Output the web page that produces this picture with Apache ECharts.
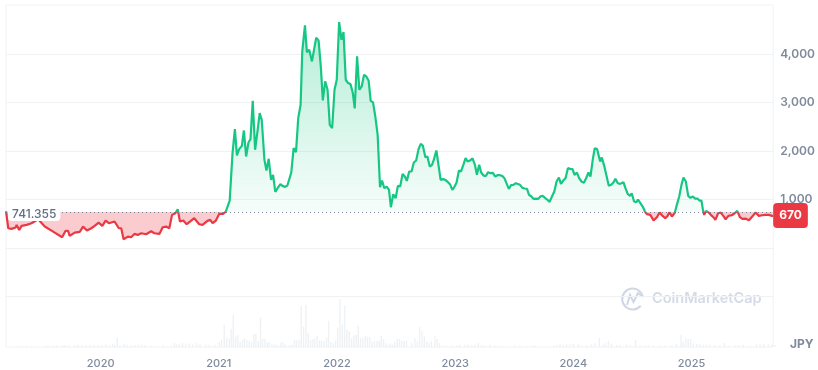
<!DOCTYPE html>
<html>
<head>
<meta charset="utf-8">
<title>Price chart</title>
<style>
  html, body { margin: 0; padding: 0; background: #fff; }
  #chart { width: 818px; height: 370px; }
</style>
<script src="https://cdn.jsdelivr.net/npm/echarts@6/dist/echarts.min.js"></script>
</head>
<body>
<div id="chart"></div>
<script>
// price (x as decimal year, y in JPY)
const priceYears = [
  2019.199, 2019.218, 2019.246, 2019.280, 2019.289, 2019.311, 2019.331, 2019.373, 2019.415, 2019.471,
  2019.527, 2019.598, 2019.674, 2019.702, 2019.724, 2019.738, 2019.780, 2019.823, 2019.851, 2019.884,
  2019.921, 2019.949, 2019.983, 2020.014, 2020.042, 2020.070, 2020.118, 2020.154, 2020.174, 2020.194,
  2020.230, 2020.258, 2020.286, 2020.314, 2020.343, 2020.385, 2020.427, 2020.455, 2020.497, 2020.525,
  2020.553, 2020.581, 2020.604, 2020.632, 2020.652, 2020.671, 2020.699, 2020.728, 2020.756, 2020.792,
  2020.834, 2020.862, 2020.904, 2020.927, 2020.947, 2020.975, 2020.989, 2021.003, 2021.036, 2021.059,
  2021.092, 2021.116, 2021.136, 2021.153, 2021.172, 2021.195, 2021.212, 2021.231, 2021.251, 2021.268,
  2021.287, 2021.307, 2021.327, 2021.346, 2021.363, 2021.386, 2021.403, 2021.422, 2021.442, 2021.459,
  2021.478, 2021.501, 2021.521, 2021.538, 2021.560, 2021.580, 2021.613, 2021.633, 2021.653, 2021.672,
  2021.692, 2021.706, 2021.729, 2021.745, 2021.765, 2021.788, 2021.804, 2021.824, 2021.844, 2021.863,
  2021.880, 2021.900, 2021.920, 2021.939, 2021.959, 2021.979, 2021.998, 2022.018, 2022.038, 2022.055,
  2022.074, 2022.094, 2022.114, 2022.133, 2022.150, 2022.170, 2022.189, 2022.209, 2022.229, 2022.248,
  2022.268, 2022.285, 2022.305, 2022.324, 2022.344, 2022.364, 2022.381, 2022.400, 2022.420, 2022.440,
  2022.456, 2022.476, 2022.496, 2022.515, 2022.535, 2022.555, 2022.574, 2022.591, 2022.611, 2022.631,
  2022.650, 2022.670, 2022.690, 2022.709, 2022.726, 2022.748, 2022.765, 2022.785, 2022.804, 2022.821,
  2022.841, 2022.877, 2022.897, 2022.917, 2022.936, 2022.959, 2022.976, 2022.995, 2023.012, 2023.032,
  2023.049, 2023.069, 2023.088, 2023.105, 2023.125, 2023.147, 2023.167, 2023.184, 2023.203, 2023.220,
  2023.240, 2023.260, 2023.279, 2023.299, 2023.319, 2023.338, 2023.358, 2023.378, 2023.397, 2023.417,
  2023.434, 2023.454, 2023.473, 2023.493, 2023.513, 2023.529, 2023.549, 2023.569, 2023.588, 2023.608,
  2023.625, 2023.645, 2023.664, 2023.684, 2023.704, 2023.723, 2023.740, 2023.760, 2023.779, 2023.799,
  2023.819, 2023.839, 2023.858, 2023.878, 2023.895, 2023.914, 2023.934, 2023.954, 2023.973, 2023.993,
  2024.010, 2024.030, 2024.049, 2024.069, 2024.089, 2024.108, 2024.128, 2024.145, 2024.164, 2024.181,
  2024.201, 2024.227, 2024.241, 2024.264, 2024.280, 2024.300, 2024.320, 2024.339, 2024.356, 2024.376,
  2024.396, 2024.424, 2024.441, 2024.460, 2024.480, 2024.494, 2024.514, 2024.533, 2024.547, 2024.567,
  2024.587, 2024.606, 2024.623, 2024.651, 2024.679, 2024.707, 2024.730, 2024.755, 2024.778, 2024.797,
  2024.814, 2024.834, 2024.859, 2024.876, 2024.896, 2024.915, 2024.932, 2024.952, 2024.972, 2024.991,
  2025.011, 2025.031, 2025.050, 2025.067, 2025.084, 2025.098, 2025.107, 2025.123, 2025.143, 2025.163,
  2025.185, 2025.202, 2025.225, 2025.247, 2025.269, 2025.289, 2025.312, 2025.340, 2025.365, 2025.387,
  2025.410, 2025.430, 2025.455, 2025.486, 2025.514, 2025.542, 2025.570, 2025.598, 2025.626, 2025.654,
  2025.682, 2025.691
];
const prices = [
  760, 406, 393, 420, 475, 372, 455, 475, 510, 592,
  441, 337, 220, 351, 351, 248, 317, 331, 441, 358,
  406, 455, 523, 455, 565, 510, 544, 406, 406, 179,
  234, 220, 289, 269, 303, 282, 344, 303, 289, 427,
  441, 406, 682, 716, 799, 544, 565, 489, 544, 613,
  489, 475, 558, 579, 510, 565, 530, 702, 702, 751,
  978, 1956, 2452, 1908, 2039, 2107, 2424, 1887, 2176, 2245,
  3037, 2025, 2404, 2782, 2645, 1818, 1598, 1839, 1405, 1508,
  1157, 1247, 1315, 1281, 1260, 1288, 1556, 2059, 1977, 2679,
  2955, 4056, 4594, 4036, 4091, 3850, 3884, 4339, 4284, 3747,
  3044, 3437, 3264, 2541, 2472, 3264, 3471, 4662, 4297, 4456,
  3471, 3402, 3381, 3209, 2879, 3953, 3264, 3333, 3574, 3540,
  3450, 3037, 3003, 2713, 2335, 1253, 1391, 1233, 1267, 1198,
  840, 1109, 1026, 1281, 1267, 1529, 1474, 1384, 1577, 1577,
  1763, 1804, 2039, 2149, 2114, 1873, 1887, 1680, 1715, 1832,
  2011, 1405, 1419, 1405, 1364, 1302, 1198, 1267, 1350, 1598,
  1577, 1715, 1853, 1784, 1804, 1846, 1715, 1508, 1715, 1556,
  1494, 1488, 1563, 1543, 1550, 1474, 1501, 1501, 1488, 1439,
  1336, 1219, 1295, 1302, 1336, 1371, 1302, 1240, 1226, 1219,
  1095, 1061, 1012, 1019, 1012, 1067, 1074, 1033, 999, 950,
  1061, 1164, 1371, 1453, 1322, 1391, 1439, 1646, 1632, 1625,
  1508, 1556, 1439, 1371, 1343, 1439, 1556, 1474, 1818, 2059,
  2039, 1784, 1866, 1667, 1646, 1281, 1302, 1350, 1426, 1336,
  1322, 1357, 1233, 1116, 1074, 1129, 957, 943, 999, 923,
  854, 751, 696, 682, 565, 634, 730, 661, 613, 661,
  737, 647, 730, 888, 1061, 1302, 1453, 1371, 1074, 1033,
  1061, 1019, 1019, 978, 978, 764, 682, 764, 737, 682,
  634, 579, 716, 730, 661, 592, 661, 675, 716, 764,
  634, 599, 606, 572, 647, 730, 661, 675, 682, 682,
  661, 670
];

// volume bars, in rough units (144 is the tallest bar)
const volumeYears = [
  2019.331, 2019.373, 2019.409, 2019.541, 2019.564, 2019.598, 2019.626, 2019.676, 2019.696, 2019.724,
  2019.780, 2019.808, 2019.836, 2019.873, 2019.907, 2019.943, 2019.977, 2020.005, 2020.042, 2020.070,
  2020.098, 2020.117, 2020.137, 2020.160, 2020.193, 2020.216, 2020.258, 2020.286, 2020.314, 2020.342,
  2020.370, 2020.427, 2020.525, 2020.595, 2020.618, 2020.637, 2020.660, 2020.688, 2020.716, 2020.744,
  2020.772, 2020.806, 2020.834, 2020.882, 2020.913, 2020.960, 2020.997, 2021.017, 2021.039, 2021.059,
  2021.081, 2021.098, 2021.115, 2021.135, 2021.154, 2021.174, 2021.194, 2021.211, 2021.230, 2021.250,
  2021.270, 2021.289, 2021.306, 2021.326, 2021.345, 2021.362, 2021.382, 2021.402, 2021.418, 2021.441,
  2021.461, 2021.480, 2021.514, 2021.534, 2021.553, 2021.593, 2021.612, 2021.632, 2021.649, 2021.669,
  2021.688, 2021.708, 2021.728, 2021.747, 2021.767, 2021.787, 2021.803, 2021.823, 2021.843, 2021.862,
  2021.882, 2021.902, 2021.919, 2021.938, 2021.958, 2021.978, 2021.995, 2022.014, 2022.034, 2022.054,
  2022.073, 2022.093, 2022.113, 2022.132, 2022.152, 2022.169, 2022.188, 2022.208, 2022.228, 2022.247,
  2022.267, 2022.287, 2022.306, 2022.326, 2022.346, 2022.363, 2022.382, 2022.402, 2022.422, 2022.441,
  2022.461, 2022.478, 2022.498, 2022.517, 2022.537, 2022.557, 2022.576, 2022.619, 2022.647, 2022.667,
  2022.686, 2022.706, 2022.726, 2022.746, 2022.765, 2022.785, 2022.816, 2022.835, 2022.855, 2022.886,
  2022.914, 2022.956, 2022.998, 2023.027, 2023.069, 2023.097, 2023.125, 2023.153, 2023.181, 2023.209,
  2023.237, 2023.279, 2023.322, 2023.350, 2023.490, 2023.532, 2023.631, 2023.659, 2023.819, 2023.841,
  2023.870, 2023.898, 2023.926, 2023.954, 2023.982, 2024.024, 2024.052, 2024.094, 2024.136, 2024.165,
  2024.201, 2024.229, 2024.249, 2024.277, 2024.305, 2024.347, 2024.375, 2024.432, 2024.460, 2024.507,
  2024.544, 2024.586, 2024.614, 2024.656, 2024.713, 2024.755, 2024.811, 2024.853, 2024.890, 2024.909,
  2024.932, 2024.951, 2024.971, 2024.994, 2025.022, 2025.050, 2025.078, 2025.106, 2025.134, 2025.176,
  2025.218, 2025.255, 2025.289, 2025.345, 2025.373, 2025.415, 2025.471, 2025.527, 2025.556, 2025.589,
  2025.626, 2025.654, 2025.682
];
const volumes = [
  4, 4, 3, 4, 4, 4, 5, 5, 6, 5,
  5, 6, 5, 5, 5, 7, 5, 5, 9, 5,
  9, 7, 27, 5, 8, 7, 5, 7, 7, 7,
  6, 4, 5, 4, 12, 8, 10, 12, 10, 11,
  8, 12, 9, 7, 7, 7, 15, 21, 67, 28,
  24, 54, 97, 32, 36, 16, 22, 27, 21, 19,
  16, 40, 40, 19, 88, 25, 25, 14, 14, 8,
  7, 7, 13, 15, 7, 6, 7, 21, 20, 22,
  122, 61, 126, 42, 22, 23, 26, 34, 20, 19,
  17, 27, 79, 15, 11, 19, 58, 144, 67, 124,
  52, 47, 27, 35, 37, 63, 27, 27, 34, 31,
  30, 15, 17, 18, 19, 34, 24, 12, 7, 10,
  7, 15, 24, 25, 18, 19, 20, 12, 27, 17,
  60, 47, 32, 17, 12, 17, 34, 24, 12, 4,
  4, 4, 5, 6, 7, 8, 5, 6, 12, 6,
  5, 7, 4, 4, 4, 5, 4, 4, 5, 7,
  9, 5, 7, 8, 9, 9, 5, 5, 8, 12,
  27, 7, 12, 19, 10, 6, 6, 8, 6, 21,
  5, 4, 5, 4, 4, 4, 5, 9, 36, 17,
  26, 24, 24, 10, 10, 9, 7, 8, 7, 6,
  5, 12, 4, 5, 6, 6, 4, 8, 8, 9,
  8, 8, 6
];

const yearLabels = [2020, 2021, 2022, 2023, 2024, 2025];
const priceTicks = [1000, 2000, 3000, 4000];
const gridTicks = [-1000, 0, 1000, 2000, 3000, 4000];
const basePrice = 741.355;
const lastPrice = 670;

const GREEN = '#16c784';
const RED = '#ea3943';
const LINE = '#eff2f5';
const TEXT = '#808a9d';
const FONT = 'Inter, sans-serif';

const chart = echarts.init(document.getElementById('chart'));

// fills and line colour switch at the base price, which sits at y=212
const H = 370;
const baseY = 212 / H;
const areaFill = new echarts.graphic.LinearGradient(0, 0, 0, H, [
  { offset: 20 / H, color: 'rgba(22,199,132,0.32)' },
  { offset: baseY, color: 'rgba(22,199,132,0.04)' },
  { offset: baseY, color: 'rgba(234,57,67,0.26)' },
  { offset: 1, color: 'rgba(234,57,67,0.26)' }
], true);
const lineColor = new echarts.graphic.LinearGradient(0, 0, 0, H, [
  { offset: 0, color: GREEN },
  { offset: baseY, color: GREEN },
  { offset: baseY, color: RED },
  { offset: 1, color: RED }
], true);

const option = {
  animation: false,
  textStyle: { fontFamily: FONT },
  grid: [
    { left: 6, right: 42, top: 5, bottom: 23, show: true, borderColor: LINE, borderWidth: 1, backgroundColor: 'transparent' },
    { left: 6, right: 42, bottom: 23, height: 48 }
  ],
  xAxis: [
    {
      type: 'value',
      min: 2019.199,
      max: 2025.691,
      axisLine: { show: true, lineStyle: { color: LINE } },
      axisTick: { show: false },
      splitLine: { show: false },
      axisLabel: {
        customValues: yearLabels,
        formatter: (v) => String(v),
        color: TEXT,
        fontSize: 11,
        fontWeight: 500,
        margin: 11,
        fontFamily: FONT
      }
    },
    {
      type: 'value',
      gridIndex: 1,
      min: 2019.199,
      max: 2025.691,
      show: false
    }
  ],
  yAxis: [
    {
      type: 'value',
      position: 'right',
      min: -2045,
      max: 5014,
      axisLine: { show: false },
      axisTick: { show: false, customValues: gridTicks },
      splitLine: { show: true, lineStyle: { color: LINE, width: 1 } },
      axisLabel: {
        customValues: priceTicks,
        formatter: (v) => v.toLocaleString('en-US'),
        color: TEXT,
        fontSize: 12,
        fontWeight: 600,
        margin: 7,
        padding: [2, 0, 0, 0],
        fontFamily: FONT
      }
    },
    {
      type: 'value',
      gridIndex: 1,
      min: 0,
      max: 144,
      show: false
    }
  ],
  series: [
    {
      name: 'Price',
      type: 'line',
      z: 3,
      data: priceYears.map((y, i) => [y, prices[i]]),
      showSymbol: false,
      lineStyle: { width: 2.2, color: lineColor },
      itemStyle: { color: GREEN },
      areaStyle: { color: areaFill, opacity: 1, origin: basePrice },
      markLine: {
        silent: true,
        symbol: 'none',
        label: { show: false },
        lineStyle: { color: '#7a8496', type: [1, 3], width: 1 },
        data: [{ yAxis: basePrice }]
      }
    },
    {
      name: 'Volume',
      type: 'bar',
      xAxisIndex: 1,
      yAxisIndex: 1,
      z: 1,
      barWidth: 1.4,
      data: volumeYears.map((y, i) => [y, volumes[i]]),
      itemStyle: { color: '#eff2f5' }
    },
    {
      // tag for the base price, left edge
      type: 'scatter',
      z: 6,
      silent: true,
      symbolSize: 0,
      itemStyle: { opacity: 1 },
      data: [[priceYears[0], basePrice]],
      label: {
        show: true,
        position: 'right',
        distance: 2,
        offset: [0, 2],
        formatter: String(basePrice),
        color: '#616e85',
        fontSize: 12,
        fontWeight: 500,
        fontFamily: FONT,
        backgroundColor: '#fff',
        borderRadius: 4,
        padding: [1, 4, 1, 4]
      }
    },
    {
      // tag for the latest price, right edge
      type: 'scatter',
      z: 6,
      silent: true,
      symbolSize: 0,
      itemStyle: { opacity: 1 },
      data: [[priceYears[priceYears.length - 1], lastPrice]],
      label: {
        show: true,
        position: 'right',
        distance: 0,
        formatter: String(lastPrice),
        color: '#fff',
        fontSize: 12,
        fontWeight: 700,
        fontFamily: FONT,
        backgroundColor: RED,
        borderRadius: 4,
        padding: [7, 6, 6, 6]
      }
    }
  ],
  graphic: [
    {
      type: 'text',
      left: 790,
      top: 338,
      style: { text: 'JPY', fill: TEXT, font: '700 12px ' + FONT }
    },
    {
      type: 'text',
      left: 652,
      top: 291,
      silent: true,
      style: { text: 'CoinMarketCap', fill: '#d5dbe6', font: '600 14.5px ' + FONT }
    },
    {
      type: 'arc',
      silent: true,
      shape: { cx: 632.7, cy: 299, r: 10.5, startAngle: 0.7, endAngle: 6.1 },
      style: { fill: 'none', stroke: '#d0d7e4', lineWidth: 2 }
    },
    {
      type: 'polyline',
      silent: true,
      shape: { points: [[627, 305], [630, 295], [633.5, 302], [638, 293], [643, 297]] },
      style: { fill: 'none', stroke: '#d0d7e4', lineWidth: 2 }
    }
  ]
};

chart.setOption(option);
window.addEventListener('resize', () => chart.resize());
</script>
</body>
</html>
